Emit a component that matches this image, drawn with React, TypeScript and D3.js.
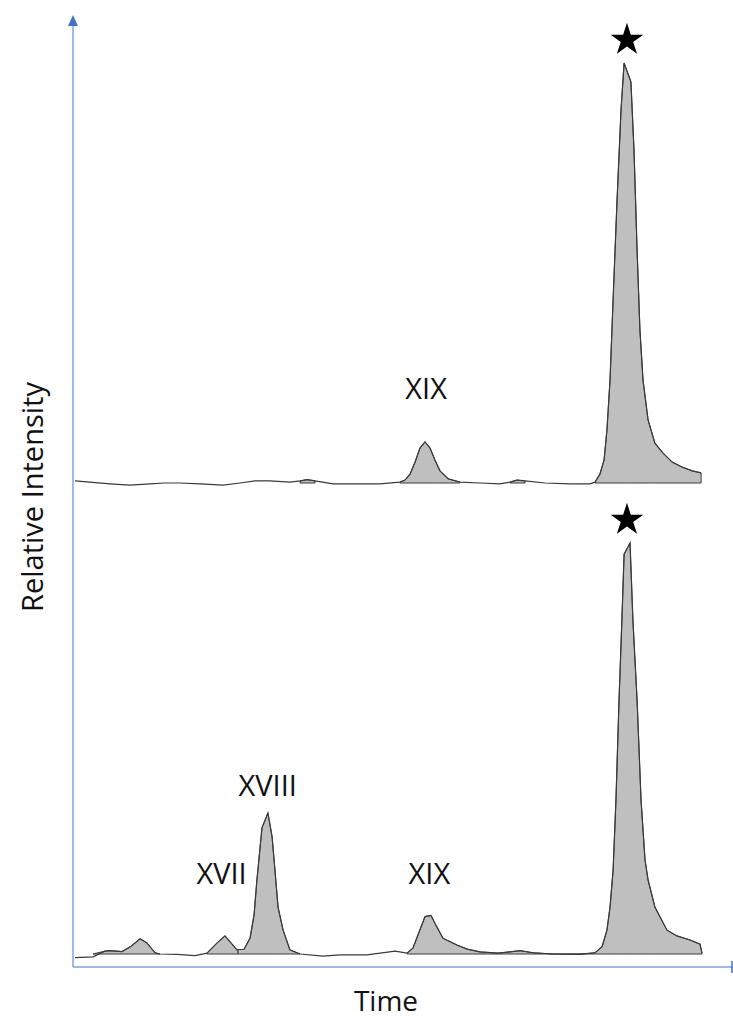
import * as d3 from "d3";

// time axis is arbitrary (0-30), intensity normalised so the starred peak = 100
const topTime = [
  0.09, 0.77, 1.68, 2.59, 3.5, 4.18, 4.86, 5.77, 6.82, 7.59, 8.27, 8.95, 9.86, 10.32, 10.64, 11.0,
  11.82, 13.05, 13.95, 14.86, 15.09, 15.32, 15.55, 15.77, 16.0, 16.23, 16.45, 16.68, 17.05, 17.59,
  18.5, 19.4, 19.86, 20.18, 20.55, 21.45, 22.59, 23.5, 23.73, 23.95, 24.14, 24.27, 24.41, 24.55,
  24.73, 24.91, 25.05, 25.36, 25.5, 25.64, 25.77, 25.91, 26.14, 26.45, 26.82, 27.23, 27.68, 28.14, 28.55,
];
const topIntensity = [
  0.5, 0.2, -0.2, -0.5, -0.2, 0, 0, -0.2, -0.5, 0, 0.5, 0.5, 0.2, 0.5, 0.8, 0.5,
  -0.2, -0.2, -0.2, 0.2, 0.7, 2.1, 5, 8.3, 9.8, 8.3, 5.5, 2.9, 1.0, 0.2,
  0, -0.2, 0.2, 0.7, 0.5, 0, -0.2, -0.2, 0.2, 2.1, 5.5, 12.6, 24.5, 43.6,
  67.4, 88.8, 100, 95.5, 79.3, 55.5, 36.4, 24.5, 15, 9.5, 7.1, 5, 3.8, 2.9, 2.4,
];
const topPeaks = [
  [10.32, 11.0],
  [14.86, 17.59],
  [19.86, 20.55],
  [23.73, 28.55],
];

const bottomTime = [
  0.09, 0.91, 1.45, 1.68, 2.23, 2.64, 3.05, 3.36, 3.73, 3.95, 4.73, 5.55, 6.09, 6.55, 6.91, 7.45,
  7.5, 7.77, 8.05, 8.23, 8.36, 8.59, 8.86, 9.05, 9.18, 9.32, 9.55, 9.86, 10.32, 11.36, 12.14, 13.36,
  14.64, 15.18, 15.45, 16.0, 16.27, 16.45, 16.82, 17.45, 17.91, 18.5, 19.32, 20.32, 20.91, 21.82,
  23.05, 23.73, 24.05, 24.27, 24.41, 24.55, 24.68, 24.82, 24.95, 25.05, 25.32, 25.45, 25.64, 25.82,
  26.0, 26.14, 26.45, 27.0, 27.45, 28.05, 28.5, 28.59,
];
const bottomIntensity = [
  -0.9, -0.7, 0.7, 0.8, 0.6, 1.9, 3.7, 2.7, 0.3, 0, -0.1, -0.4, 0.2, 2.7, 4.4, 1.0,
  1.1, 1.1, 3.9, 9.5, 18.0, 30.7, 34.3, 28.5, 20.4, 11.4, 5.8, 1.0, 0, -0.5, -0.2, -0.2,
  0.7, 0.2, 1.4, 9.1, 9.4, 7.5, 3.8, 2.2, 1.2, 0.5, 0.2, 0.8, 0.3, 0,
  -0.1, 0.3, 1.8, 5.8, 11.4, 20.4, 37.5, 61.8, 81.3, 97.3, 100, 81.3, 61.8, 37.5,
  22.9, 18.0, 11.4, 5.8, 4.4, 3.4, 2.4, 0.2,
];
const bottomPeaks = [
  [0.91, 3.95],
  [6.09, 7.5],
  [7.5, 10.32],
  [15.18, 28.59],
];

// labels: text, time, intensity (label baseline)
const topLabels = [{ text: "XIX", t: 16.05, i: 20 }];
const bottomLabels = [
  { text: "XVII", t: 6.75, i: 17 },
  { text: "XVIII", t: 8.85, i: 38.5 },
  { text: "XIX", t: 16.2, i: 17 },
];
const starTime = 25.18;

const W = 733;
const H = 1019;
const axisColor = "#4472C4";
const font = "'Open Sans', sans-serif";

const x = d3.scaleLinear().domain([0, 30]).range([73, 733]);
const yTop = d3.scaleLinear().domain([0, 100]).range([483, 63]);
const yBottom = d3.scaleLinear().domain([0, 100]).range([954, 543]);

function Trace({ time, intensity, peaks, y, labels }) {
  const pts = time.map((t, k) => ({ t, v: intensity[k] }));
  const line = d3
    .line()
    .x((d) => x(d.t))
    .y((d) => y(d.v));
  const area = d3
    .area()
    .x((d) => x(d.t))
    .y0(y(0))
    .y1((d) => y(Math.max(0, d.v)));
  const star = d3.symbol(d3.symbolStar, 330)();
  return (
    <g>
      {peaks.map(([a, b], k) => (
        <path
          key={k}
          d={area(pts.filter((p) => p.t >= a && p.t <= b))}
          fill="#bfbfbf"
          stroke="#3a3a3a"
          strokeWidth={1}
        />
      ))}
      <path d={line(pts)} fill="none" stroke="#3a3a3a" strokeWidth={1.2} />
      {labels.map((l) => (
        <text
          key={l.text}
          x={x(l.t)}
          y={y(l.i)}
          textAnchor="middle"
          fontFamily={font}
          fontSize={29}
          fill="#111"
        >
          {l.text}
        </text>
      ))}
      <path d={star} transform={`translate(${x(starTime)},${y(100) - 23})`} fill="#000" />
    </g>
  );
}

export default function App() {
  const x0 = x(0);
  const axisY = 967;
  return (
    <svg
      width={W}
      height={H}
      style={{ position: "absolute", left: 0, top: 0, background: "#fff" }}
    >
      <Trace time={topTime} intensity={topIntensity} peaks={topPeaks} y={yTop} labels={topLabels} />
      <Trace
        time={bottomTime}
        intensity={bottomIntensity}
        peaks={bottomPeaks}
        y={yBottom}
        labels={bottomLabels}
      />
      {/* axes */}
      <line x1={x0} y1={axisY} x2={x0} y2={24} stroke={axisColor} strokeWidth={1} />
      <path d={`M${x0},15 L${x0 - 5},26 L${x0 + 5},26 Z`} fill={axisColor} />
      <line x1={x0} y1={axisY} x2={x(30)} y2={axisY} stroke={axisColor} strokeWidth={1} />
      <line x1={x(30) - 1} y1={axisY - 6} x2={x(30) - 1} y2={axisY + 6} stroke={axisColor} strokeWidth={1.5} />
      <text x={386} y={1011} textAnchor="middle" fontFamily={font} fontSize={28} fill="#111">
        Time
      </text>
      <text
        transform="translate(43,497) rotate(-90)"
        textAnchor="middle"
        fontFamily={font}
        fontSize={29}
        fill="#111"
      >
        Relative Intensity
      </text>
    </svg>
  );
}
